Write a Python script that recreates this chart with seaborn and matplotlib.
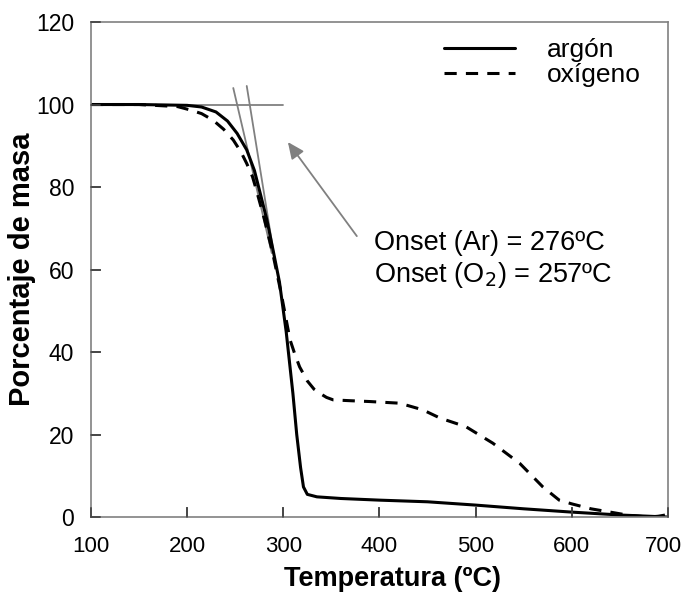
import numpy as np
import pandas as pd
import seaborn as sns
import matplotlib.pyplot as plt
import matplotlib.transforms as mtransforms

# argon curve (temperature ºC, mass %)
ar_temp = [100, 150, 200, 215, 230, 242, 252, 262, 270, 276, 283, 290, 296, 303, 310,
           314, 318, 321, 325, 335, 360, 400, 450, 500, 550, 600, 650, 700]
ar_mass = [100, 100, 99.8, 99.4, 98.2, 96, 93, 89, 84, 78.5, 72, 64, 57, 45, 30,
           20, 12, 7.3, 5.5, 4.9, 4.5, 4.1, 3.7, 2.9, 2.0, 1.2, 0.5, 0.0]

# oxygen curve
ox_temp = [100, 150, 190, 203, 215, 227, 238, 248, 256, 262, 268, 272, 280, 289,
           298, 307, 312, 317, 325, 332, 338, 345, 352, 370, 390, 421, 445, 463,
           490, 518, 546, 570, 587, 600, 620, 640, 660, 680, 690, 700]
ox_mass = [100, 100, 99.5, 98.7, 97.8, 96.2, 94, 91.4, 88.5, 85.7, 82.5, 79.3, 72.5, 64,
           54, 43, 39.5, 36.4, 33, 31, 30, 29, 28.4, 28.2, 28, 27.6, 26, 24,
           21.9, 17.9, 13, 7.3, 4.1, 3.2, 2.0, 1.2, 0.4, 0, 0.2, 0.6]

# tangent construction lines
base_x = [100, 300]
base_y = [100, 100]
tan1_x = [248, 288]
tan1_y = [104, 64]
tan2_x = [262, 290]
tan2_y = [104.5, 64]

x_ticks = list(range(100, 701, 100))
y_ticks = list(range(0, 121, 20))

df = pd.concat([
    pd.DataFrame({"temp": ar_temp, "mass": ar_mass, "gas": "argón"}),
    pd.DataFrame({"temp": ox_temp, "mass": ox_mass, "gas": "oxígeno"}),
])

sns.set_style("white")
plt.rcParams["font.family"] = ["Liberation Sans", "DejaVu Sans"]
plt.rcParams.update({
    "text.color": "black",
    "axes.labelcolor": "black",
    "xtick.color": "#444444",
    "ytick.color": "#444444",
    "xtick.labelcolor": "black",
    "ytick.labelcolor": "black",
    "xtick.bottom": True,
    "ytick.left": True,
    "xtick.direction": "in",
    "ytick.direction": "in",
    "xtick.major.size": 7,
    "ytick.major.size": 7,
    "xtick.major.width": 1.2,
    "ytick.major.width": 1.2,
    "xtick.major.pad": 14,
    "ytick.major.pad": 12,
    "xtick.labelsize": 16,
    "ytick.labelsize": 16.5,
})

fig = plt.figure(figsize=(6.85, 5.95), dpi=100)
ax = fig.add_axes([0.1328, 0.131, 0.975 - 0.1328, 0.963 - 0.131])

grey = "#808080"
ax.plot(base_x, base_y, color=grey, lw=1.3)
ax.plot(tan1_x, tan1_y, color=grey, lw=1.3)
ax.plot(tan2_x, tan2_y, color=grey, lw=1.3)

sns.lineplot(data=df, x="temp", y="mass", style="gas", color="black",
             dashes={"argón": "", "oxígeno": (4, 3)}, linewidth=2.2,
             sort=False, ax=ax)

ax.annotate("", xy=(304.8, 90.9), xytext=(376.5, 68.1),
            arrowprops=dict(arrowstyle="-|>,head_length=1.0,head_width=0.45",
                            color=grey, lw=1.3, shrinkA=0, shrinkB=0))
ax.text(394, 66.5, "Onset (Ar) = 276ºC", fontsize=19.5, va="center", ha="left")
ax.text(394, 58.7, "Onset (O$_2$) = 257ºC", fontsize=19.5, va="center", ha="left")

ax.set_xlim(100, 700)
ax.set_ylim(0, 120)
ax.set_xticks(x_ticks)
ax.set_yticks(y_ticks)
for s in ax.spines.values():
    s.set_color(grey)
    s.set_linewidth(1.2)

# inward tick marks, drawn explicitly so they always show
xt = ax.get_xaxis_transform()
yt = ax.get_yaxis_transform()
for x in x_ticks:
    ax.plot([x, x], [0, 0.018], transform=xt, color="#444444", lw=1.2,
            clip_on=False, zorder=5)
for y in y_ticks:
    ax.plot([0, 0.016], [y, y], transform=yt, color="#444444", lw=1.2,
            clip_on=False, zorder=5)

ax.set_xlabel("Temperatura (ºC)", fontsize=19.5, fontweight="bold")
ax.set_ylabel("Porcentaje de masa", fontsize=21, fontweight="bold")
ax.xaxis.set_label_coords(0.522, -0.099)
ax.yaxis.set_label_coords(-0.12, 0.5)
ax.xaxis.label.set_va("top")
ax.yaxis.label.set_va("center")

leg = ax.legend(loc="upper right", frameon=False, fontsize=19, handlelength=2.7,
                handletextpad=1.2, labelspacing=0.05, borderaxespad=0.2,
                bbox_to_anchor=(0.98, 1.0))
for line in leg.get_lines():
    line.set_linewidth(2.2)

# keep the last x label inside the canvas
last = ax.get_xticklabels()[-1]
last.set_transform(last.get_transform() +
                   mtransforms.ScaledTranslation(-4 / 100, 0, fig.dpi_scale_trans))

fig.savefig("out.png", dpi=100)
